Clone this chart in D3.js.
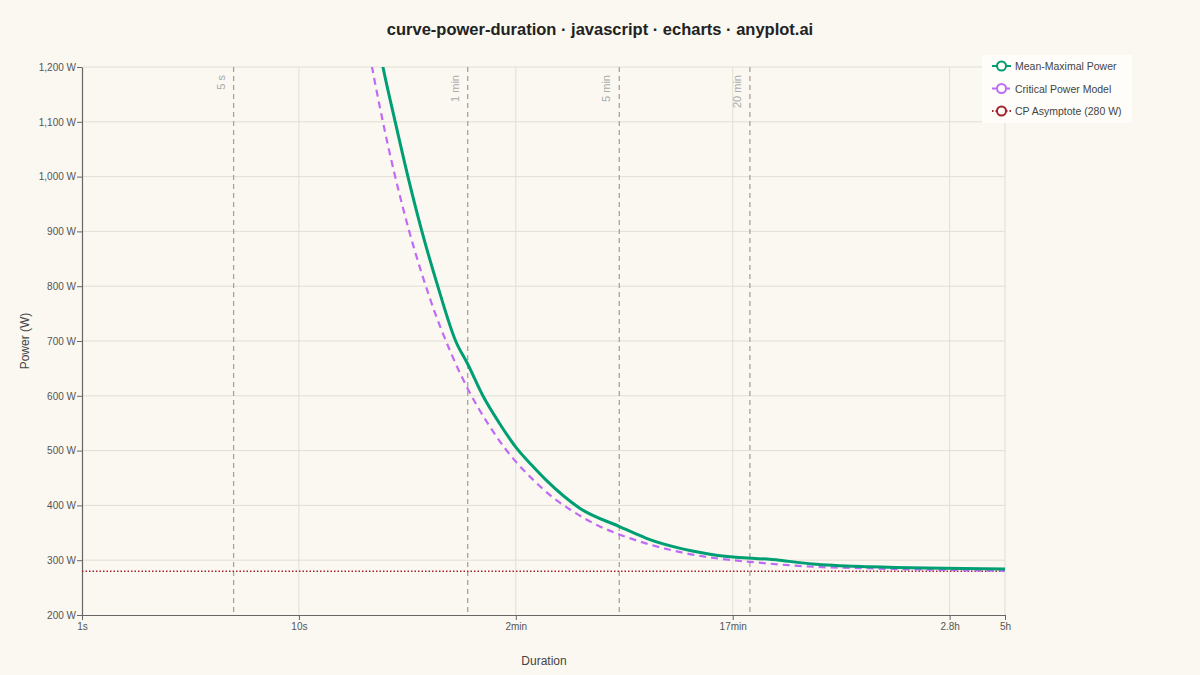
<!DOCTYPE html>
<html>
<head>
<meta charset="utf-8">
<script src="https://cdn.jsdelivr.net/npm/d3@7"></script>
<style>
  body { margin: 0; background: #faf8f1; }
  svg { display: block; font-family: "Liberation Sans", Arial, sans-serif; }
</style>
</head>
<body>
<div id="chart"></div>
<script>
// mean-maximal power curve (seconds, watts)
const mmpDurations = [15, 20, 24.4, 27.8, 32, 36.8, 43.6, 52.8, 60, 70.5, 84, 101, 118, 138, 197, 302, 400, 786, 1643, 2330, 4270, 18000];
const mmpPower = [1760, 1390, 1200, 1100, 996, 902, 801, 700, 658, 600, 550, 504, 474, 446, 395, 361, 340, 311, 300, 293, 288, 284];

// critical power model curve
const modelDurations = [15, 20, 25, 30, 40, 50, 60, 75, 90, 120, 150, 180, 240, 300, 420, 600, 900, 1200, 1800, 2700, 3600, 5400, 7200, 10800, 14400, 18000];
const modelPower = [1613, 1280, 1080, 947, 780, 680, 613, 547, 502, 447, 413, 391, 363, 347, 328, 313, 302, 297, 291, 287, 286, 284, 283, 282, 281, 281];

const cpValue = 280;

// reference durations
const markerDurations = [5, 60, 300, 1200];
const markerLabels = ["5 s", "1 min", "5 min", "20 min"];

const xTickValues = [1, 10, 100, 1000, 10000, 18000];
const xTickLabels = ["1s", "10s", "2min", "17min", "2.8h", "5h"];
const yTickValues = [200, 300, 400, 500, 600, 700, 800, 900, 1000, 1100, 1200];

const seriesNames = ["Mean-Maximal Power", "Critical Power Model", "CP Asymptote (280 W)"];

const width = 1200,
  height = 675,
  margin = { top: 67, right: 195, bottom: 60, left: 82 };

const svg = d3.select("#chart").append("svg")
  .attr("width", width)
  .attr("height", height);

svg.append("rect").attr("width", width).attr("height", height).attr("fill", "#faf8f1");

const x = d3.scaleLog().domain([1, 18000]).range([margin.left, width - margin.right]);
const y = d3.scaleLinear().domain([200, 1200]).range([height - margin.bottom, margin.top]);

//title
svg.append("text")
  .attr("x", 600).attr("y", 35)
  .attr("text-anchor", "middle")
  .attr("font-size", 16.5).attr("font-weight", "bold").attr("fill", "#222")
  .text("curve-power-duration · javascript · echarts · anyplot.ai");

// grid
svg.append("g").selectAll("line").data(yTickValues.slice(1)).enter().append("line")
  .attr("x1", margin.left).attr("x2", width - margin.right)
  .attr("y1", d => y(d)).attr("y2", d => y(d))
  .attr("stroke", "#e2ded5").attr("stroke-width", 1);
svg.append("g").selectAll("line").data(xTickValues.slice(1)).enter().append("line")
  .attr("x1", d => x(d)).attr("x2", d => x(d))
  .attr("y1", margin.top).attr("y2", height - margin.bottom)
  .attr("stroke", "#e2ded5").attr("stroke-width", 1);

// axes
const xAxis = d3.axisBottom(x).tickValues(xTickValues)
  .tickFormat((d, i) => xTickLabels[i]).tickSize(5).tickSizeOuter(0);
const yAxis = d3.axisLeft(y).tickValues(yTickValues)
  .tickFormat(d => d3.format(",")(d) + " W").tickSize(5).tickSizeOuter(0);

const gx = svg.append("g")
  .attr("transform", `translate(0,${height - margin.bottom})`)
  .call(xAxis);
const gy = svg.append("g")
  .attr("transform", `translate(${margin.left},0)`)
  .call(yAxis);
[gx, gy].forEach(g => {
  g.select(".domain").attr("stroke", "#666").attr("stroke-width", 1.2);
  g.selectAll(".tick line").attr("stroke", "#666");
  g.selectAll(".tick text").attr("fill", "#555").attr("font-size", 10)
    .attr("font-family", "Liberation Sans, Arial, sans-serif");
});
gy.selectAll(".tick text").attr("x", -6);

svg.append("text")
  .attr("x", 544).attr("y", 665)
  .attr("text-anchor", "middle").attr("font-size", 12).attr("fill", "#444")
  .text("Duration");
svg.append("text")
  .attr("transform", `translate(29,${(margin.top + height - margin.bottom) / 2}) rotate(-90)`)
  .attr("text-anchor", "middle").attr("font-size", 12).attr("fill", "#444")
  .text("Power (W)");

// clip to plot area
svg.append("clipPath").attr("id", "plot-clip").append("rect")
  .attr("x", margin.left).attr("y", margin.top)
  .attr("width", width - margin.left - margin.right)
  .attr("height", height - margin.top - margin.bottom);

// reference duration lines
const markers = svg.append("g").selectAll("g").data(markerDurations).enter().append("g");
markers.append("line")
  .attr("x1", d => x(d)).attr("x2", d => x(d))
  .attr("y1", margin.top).attr("y2", height - margin.bottom)
  .attr("stroke", "#a8a39b").attr("stroke-width", 1.3).attr("stroke-dasharray", "5,4");
markers.append("text")
  .attr("transform", d => `translate(${x(d) - 9},${margin.top + 8}) rotate(-90)`)
  .attr("text-anchor", "end")
  .attr("font-size", 11).attr("fill", "#aaa")
  .text((d, i) => markerLabels[i]);

const plot = svg.append("g").attr("clip-path", "url(#plot-clip)");

// CP asymptote
plot.append("line")
  .attr("x1", x(1)).attr("x2", x(18000))
  .attr("y1", y(cpValue)).attr("y2", y(cpValue))
  .attr("stroke", "#a3242f").attr("stroke-width", 1.5).attr("stroke-dasharray", "1.5,2");

const modelLine = d3.line()
  .x((d, i) => x(modelDurations[i]))
  .y(d => y(d))
  .curve(d3.curveMonotoneX);
plot.append("path")
  .datum(modelPower)
  .attr("d", modelLine)
  .attr("fill", "none").attr("stroke", "#c06bf5").attr("stroke-width", 2.2)
  .attr("stroke-dasharray", "7,5");

const mmpLine = d3.line()
  .x((d, i) => x(mmpDurations[i]))
  .y(d => y(d))
  .curve(d3.curveMonotoneX);
plot.append("path")
  .datum(mmpPower)
  .attr("d", mmpLine)
  .attr("fill", "none").attr("stroke", "#009e73").attr("stroke-width", 3)
  .attr("stroke-linejoin", "round");

// legend
const legend = svg.append("g").attr("transform", "translate(982,55)");
legend.append("rect").attr("width", 150).attr("height", 68).attr("fill", "#fefdf9");
const legendColors = ["#009e73", "#c06bf5", "#a3242f"];
const legendDash = [null, "4,3", "1.5,2"];
const items = legend.selectAll(".item").data(seriesNames).enter().append("g")
  .attr("class", "item")
  .attr("transform", (d, i) => `translate(10,${11 + i * 22.5})`);
items.append("line")
  .attr("x1", 0).attr("x2", 19).attr("y1", 0).attr("y2", 0)
  .attr("stroke", (d, i) => legendColors[i]).attr("stroke-width", 2)
  .attr("stroke-dasharray", (d, i) => legendDash[i]);
items.append("circle")
  .attr("cx", 9.5).attr("cy", 0).attr("r", 4.5)
  .attr("fill", "#fefdf9").attr("stroke", (d, i) => legendColors[i]).attr("stroke-width", 2);
items.append("text")
  .attr("x", 23).attr("y", 4)
  .attr("font-size", 10.5).attr("fill", "#444")
  .text(d => d);
</script>
</body>
</html>
